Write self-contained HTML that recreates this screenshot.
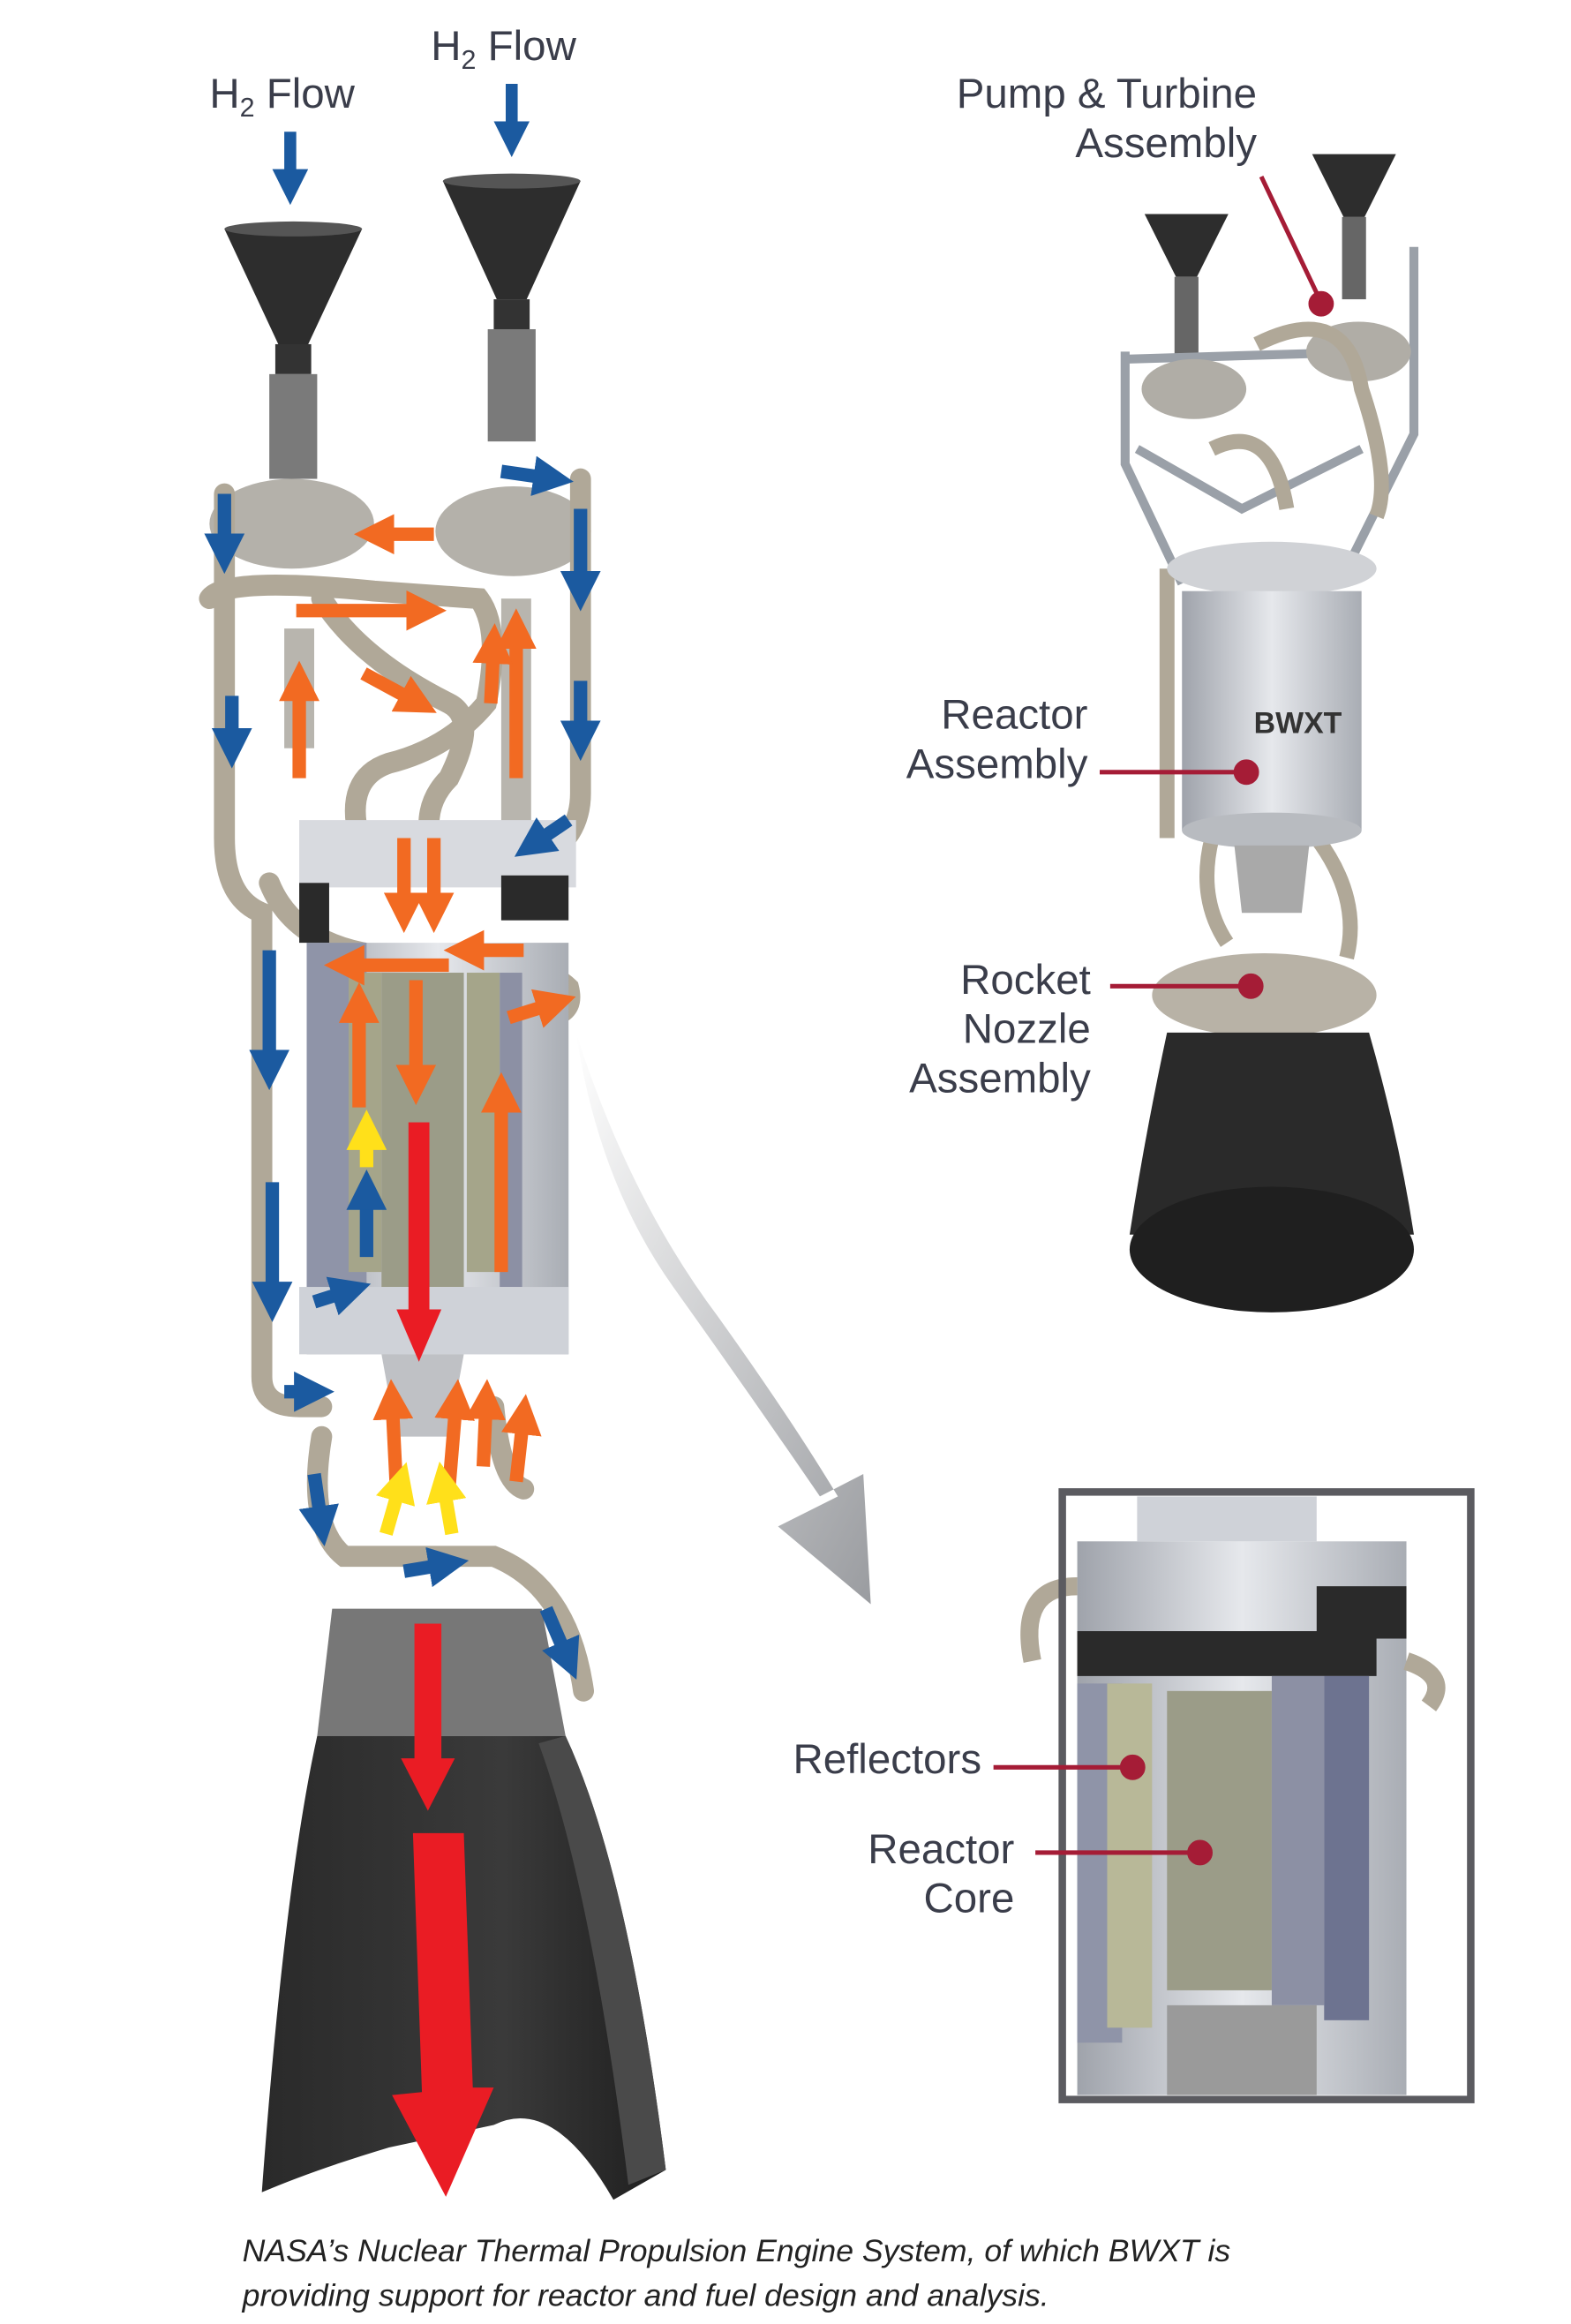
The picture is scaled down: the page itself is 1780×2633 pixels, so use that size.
<!DOCTYPE html>
<html><head><meta charset="utf-8"><style>
html,body{margin:0;padding:0;background:#fff;}
svg{display:block;}
text{font-family:"Liberation Sans",sans-serif;fill:#3a3d4a;}
</style></head><body>
<svg width="1780" height="2633" viewBox="0 0 1050 1553" preserveAspectRatio="none" xmlns="http://www.w3.org/2000/svg">
<defs>
<linearGradient id="cyl" x1="0" x2="1"><stop offset="0" stop-color="#9fa3ab"/><stop offset=".5" stop-color="#e6e8ec"/><stop offset="1" stop-color="#a9adb4"/></linearGradient>
<linearGradient id="gr" x1="0" y1="0" x2="1" y2="1"><stop offset="0" stop-color="#fff"/><stop offset="1" stop-color="#9a9ca0"/></linearGradient>
<linearGradient id="noz" x1="0" x2="1"><stop offset="0" stop-color="#2a2a2a"/><stop offset=".6" stop-color="#3a3a3a"/><stop offset="1" stop-color="#1e1e1e"/></linearGradient>
<marker id="bl" markerWidth="3" markerHeight="3" refX="1.5" refY="1.5" orient="auto" markerUnits="strokeWidth"><path d="M0,0L3,1.5L0,3z" fill="#1b5aa0"/></marker>
<marker id="or" markerWidth="3" markerHeight="3" refX="1.5" refY="1.5" orient="auto" markerUnits="strokeWidth"><path d="M0,0L3,1.5L0,3z" fill="#f26a22"/></marker>
<marker id="ye" markerWidth="3" markerHeight="3" refX="1.5" refY="1.5" orient="auto" markerUnits="strokeWidth"><path d="M0,0L3,1.5L0,3z" fill="#ffe01a"/></marker>
</defs>

<path d="M385,690 Q420,800 480,880 Q530,950 560,1000 L520,1020 L582,1072 L577,985 L548,1000 Q500,930 450,860 Q400,790 385,690z" fill="url(#gr)"/>

<text x="140" y="72" font-size="28">H<tspan font-size="18" dy="6">2</tspan><tspan dy="-6"> Flow</tspan></text>
<text x="288" y="40" font-size="28">H<tspan font-size="18" dy="6">2</tspan><tspan dy="-6"> Flow</tspan></text>
<line x1="194" y1="88" x2="194" y2="125" stroke="#1b5aa0" stroke-width="8" marker-end="url(#bl)"/>
<line x1="342" y1="56" x2="342" y2="93" stroke="#1b5aa0" stroke-width="8" marker-end="url(#bl)"/>

<path d="M150,153 L242,153 L206,230 L186,230z" fill="#2d2d2d"/><ellipse cx="196" cy="153" rx="46" ry="5" fill="#555"/>
<path d="M296,121 L388,121 L352,200 L332,200z" fill="#2d2d2d"/><ellipse cx="342" cy="121" rx="46" ry="5" fill="#555"/>
<rect x="184" y="230" width="24" height="20" fill="#333"/><rect x="180" y="250" width="32" height="70" fill="#7a7a7a"/>
<rect x="330" y="200" width="24" height="20" fill="#333"/><rect x="326" y="220" width="32" height="75" fill="#7a7a7a"/>
<ellipse cx="195" cy="350" rx="55" ry="30" fill="#b4b1aa"/>
<ellipse cx="343" cy="355" rx="52" ry="30" fill="#b4b1aa"/>
<rect x="190" y="420" width="20" height="80" fill="#b8b5ae"/>
<rect x="335" y="400" width="20" height="150" fill="#b8b5ae"/>

<g fill="none" stroke="#b0a898" stroke-width="14" stroke-linecap="round">
<path d="M150,330 L150,560 Q150,600 175,610 L175,920 Q175,940 200,940 L215,940"/>
<path d="M388,320 L388,530 Q388,560 360,575"/>
<path d="M140,400 Q150,385 250,395 L320,400 Q335,420 325,470 Q300,500 260,510 Q230,520 240,560"/>
<path d="M215,400 Q240,440 300,470 Q320,480 300,520 Q280,540 290,570"/>
<path d="M180,590 Q200,640 280,640 Q360,640 380,660 Q385,680 360,680"/>
<path d="M215,960 Q205,1020 230,1040 L330,1040 Q380,1060 390,1130"/>
<path d="M330,940 Q335,990 350,995"/>
</g>

<rect x="200" y="548" width="185" height="45" fill="#d8dadf"/>
<rect x="200" y="590" width="20" height="40" fill="#2a2a2a"/><rect x="335" y="585" width="45" height="30" fill="#2a2a2a"/>
<rect x="205" y="630" width="175" height="275" fill="url(#cyl)"/>
<rect x="205" y="630" width="40" height="230" fill="#8f94a8"/>
<rect x="233" y="650" width="22" height="200" fill="#a5a58a"/>
<rect x="255" y="650" width="55" height="210" fill="#9b9c88"/>
<rect x="312" y="650" width="22" height="200" fill="#a5a58a"/>
<rect x="334" y="650" width="15" height="210" fill="#8c90a4"/>
<rect x="200" y="860" width="180" height="45" fill="#cfd2d8"/>
<path d="M255,905 L310,905 L300,960 L265,960z" fill="#bfc1c5"/>

<path d="M222,1075 L362,1075 L378,1160 L212,1160z" fill="#777"/>
<path d="M212,1160 L378,1160 Q420,1250 445,1450 L410,1470 Q370,1400 330,1420 L260,1435 Q210,1450 175,1465 Q190,1260 212,1160z" fill="url(#noz)"/>
<path d="M378,1160 Q420,1250 445,1450 L420,1460 Q395,1260 360,1165z" fill="#4a4a4a"/>

<g stroke-width="9" fill="none">
<g stroke="#1b5aa0" marker-end="url(#bl)">
<line x1="150" y1="330" x2="150" y2="370"/><line x1="155" y1="465" x2="155" y2="500"/><line x1="180" y1="635" x2="180" y2="715"/><line x1="182" y1="790" x2="182" y2="870"/><line x1="388" y1="340" x2="388" y2="395"/><line x1="388" y1="455" x2="388" y2="495"/><line x1="380" y1="548" x2="355" y2="565"/><line x1="335" y1="315" x2="370" y2="320"/><line x1="245" y1="840" x2="245" y2="795"/><line x1="210" y1="870" x2="235" y2="862"/><line x1="190" y1="930" x2="210" y2="930"/><line x1="210" y1="985" x2="215" y2="1020"/><line x1="270" y1="1050" x2="300" y2="1045"/><line x1="365" y1="1075" x2="380" y2="1110"/>
</g>
<g stroke="#f26a22" marker-end="url(#or)">
<line x1="198" y1="408" x2="285" y2="408"/><line x1="290" y1="357" x2="250" y2="357"/><line x1="200" y1="520" x2="200" y2="455"/><line x1="243" y1="450" x2="280" y2="470"/><line x1="270" y1="560" x2="270" y2="610"/><line x1="290" y1="560" x2="290" y2="610"/><line x1="345" y1="520" x2="345" y2="420"/><line x1="328" y1="470" x2="330" y2="430"/><line x1="350" y1="635" x2="310" y2="635"/><line x1="300" y1="645" x2="230" y2="645"/><line x1="240" y1="740" x2="240" y2="670"/><line x1="278" y1="655" x2="278" y2="725"/><line x1="335" y1="850" x2="335" y2="730"/><line x1="340" y1="680" x2="372" y2="670"/><line x1="265" y1="995" x2="262" y2="935"/><line x1="300" y1="995" x2="305" y2="935"/><line x1="323" y1="980" x2="325" y2="935"/><line x1="345" y1="990" x2="350" y2="945"/>
</g>
<g stroke="#ffe01a" marker-end="url(#ye)">
<line x1="245" y1="780" x2="245" y2="755"/><line x1="258" y1="1025" x2="268" y2="990"/><line x1="302" y1="1025" x2="296" y2="990"/>
</g>
</g>
<rect x="273" y="750" width="14" height="130" fill="#ea1c24"/><path d="M265,875 L295,875 L280,910z" fill="#ea1c24"/>
<rect x="277" y="1085" width="18" height="95" fill="#ea1c24"/><path d="M268,1175 L304,1175 L286,1210z" fill="#ea1c24"/>
<path d="M276,1225 L310,1225 L316,1395 L330,1395 L298,1468 L262,1400 L282,1398z" fill="#ea1c24"/>

<!-- right engine -->
<path d="M765,143 L821,143 L800,185 L786,185z" fill="#2d2d2d"/>
<path d="M877,103 L933,103 L912,145 L898,145z" fill="#2d2d2d"/>
<rect x="785" y="185" width="16" height="55" fill="#666"/><rect x="897" y="145" width="16" height="55" fill="#666"/>
<g fill="none" stroke="#9aa0a8" stroke-width="6">
<path d="M752,235 L752,310 L790,390 M945,165 L945,290 L900,380 M752,240 L920,235 M760,300 L830,340 L910,300 M800,380 L880,380"/>
</g>
<ellipse cx="798" cy="260" rx="35" ry="20" fill="#b0ada6"/>
<ellipse cx="908" cy="235" rx="35" ry="20" fill="#b0ada6"/>
<g fill="none" stroke="#b0a898" stroke-width="10"><path d="M810,300 Q850,280 860,340 M840,230 Q900,200 910,260 Q930,320 920,345 M780,380 L780,560 M880,430 Q900,420 895,440 M810,560 Q800,600 820,630 M880,560 Q910,600 900,640"/></g>
<ellipse cx="850" cy="380" rx="70" ry="18" fill="#d0d2d6"/>
<rect x="790" y="395" width="120" height="160" fill="url(#cyl)"/>
<ellipse cx="850" cy="555" rx="60" ry="12" fill="#b8bbc0"/>
<text x="838" y="490" font-size="20" font-weight="bold" style="fill:#333">BWXT</text>
<path d="M825,565 L875,565 L870,610 L830,610z" fill="#a9a9a9"/>
<ellipse cx="845" cy="665" rx="75" ry="28" fill="#b8b2a6"/>
<path d="M780,690 L915,690 Q935,760 945,825 L755,825 Q765,760 780,690z" fill="#2a2a2a"/>
<ellipse cx="850" cy="835" rx="95" ry="42" fill="#1f1f1f"/>

<!-- inset -->
<g>
<rect x="710" y="997" width="273" height="406" fill="#fff"/>
<rect x="720" y="1030" width="220" height="370" fill="url(#cyl)"/>
<rect x="720" y="1090" width="200" height="30" fill="#2a2a2a"/>
<rect x="720" y="1125" width="30" height="240" fill="#8f94a8"/>
<rect x="740" y="1125" width="30" height="230" fill="#b8b898"/>
<rect x="780" y="1130" width="70" height="200" fill="#9b9c88"/>
<rect x="850" y="1120" width="35" height="220" fill="#8c90a4"/>
<rect x="885" y="1120" width="30" height="230" fill="#6d7390"/>
<rect x="760" y="1000" width="120" height="30" fill="#cfd2d8"/>
<rect x="880" y="1060" width="60" height="35" fill="#2a2a2a"/>
<rect x="780" y="1340" width="100" height="60" fill="#9a9a9a"/>
<path d="M720,1060 Q680,1060 690,1110" fill="none" stroke="#b0a898" stroke-width="12"/>
<path d="M940,1110 Q970,1120 955,1140" fill="none" stroke="#b0a898" stroke-width="12"/>
<rect x="710" y="997" width="273" height="406" fill="none" stroke="#5b5b60" stroke-width="5"/>
</g>

<g font-size="28" text-anchor="end">
<text x="840" y="72">Pump &amp; Turbine</text><text x="840" y="105">Assembly</text>
<text x="727" y="487">Reactor</text><text x="727" y="520">Assembly</text>
<text x="729" y="664">Rocket</text><text x="729" y="697">Nozzle</text><text x="729" y="730">Assembly</text>
<text x="656" y="1185">Reflectors</text>
<text x="678" y="1245">Reactor</text><text x="678" y="1278">Core</text>
</g>
<g stroke="#a51c36" stroke-width="3" fill="#a51c36">
<line x1="843" y1="118" x2="882" y2="200"/><circle cx="883" cy="203" r="7"/>
<line x1="735" y1="516" x2="830" y2="516"/><circle cx="833" cy="516" r="7"/>
<line x1="742" y1="659" x2="833" y2="659"/><circle cx="836" cy="659" r="7"/>
<line x1="664" y1="1181" x2="752" y2="1181"/><circle cx="757" cy="1181" r="7"/>
<line x1="692" y1="1238" x2="797" y2="1238"/><circle cx="802" cy="1238" r="7"/>
</g>

<g font-size="21" font-style="italic">
<text x="162" y="1511" style="fill:#222">NASA’s Nuclear Thermal Propulsion Engine System, of which BWXT is</text>
<text x="162" y="1541" style="fill:#222">providing support for reactor and fuel design and analysis.</text>
</g>
</svg>
</body></html>
